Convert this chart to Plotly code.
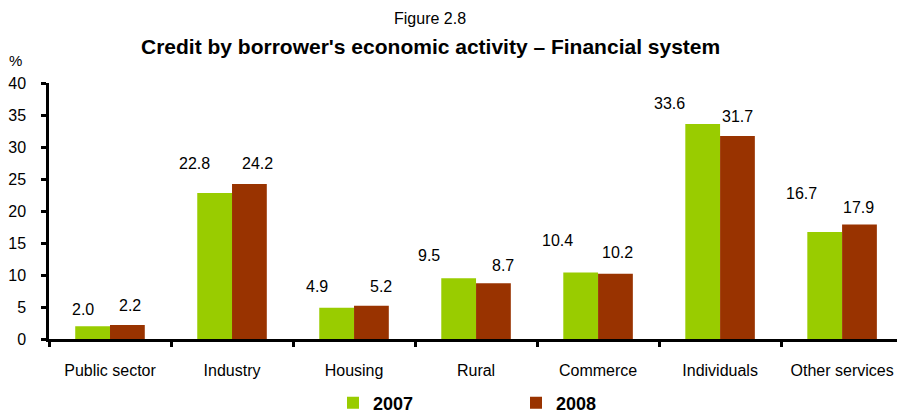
import plotly.graph_objects as go

# Credit shares by borrower's economic activity (%)
categories = ["Public sector", "Industry", "Housing", "Rural",
              "Commerce", "Individuals", "Other services"]
share_2007 = [2.0, 22.8, 4.9, 9.5, 10.4, 33.6, 16.7]
share_2008 = [2.2, 24.2, 5.2, 8.7, 10.2, 31.7, 17.9]
y_ticks = [0, 5, 10, 15, 20, 25, 30, 35, 40]

# Hand-placed data-label offsets (px) relative to category centre / bar top
dx_2007 = [-27, -38, -37, -47, -41, -51, -41]
dy_2007 = [17, 30, 21, 23, 32, 20, 39]
dx_2008 = [20, 25, 27, 27, 19, 17, 16]
dy_2008 = [19, 21, 19, 18, 21, 20, 17]

GREEN = "#99CC00"
BROWN = "#993300"
FONT = "Liberation Sans, Arial, sans-serif"

fig = go.Figure()
fig.add_trace(go.Bar(x=categories, y=share_2007, name="2007",
                     marker=dict(color=GREEN, line=dict(width=0))))
fig.add_trace(go.Bar(x=categories, y=share_2008, name="2008",
                     marker=dict(color=BROWN, line=dict(width=0))))

label_font = dict(size=16, color="black", family=FONT)
annotations = []
for values, dxs, dys in ((share_2007, dx_2007, dy_2007),
                         (share_2008, dx_2008, dy_2008)):
    for cat, v, dx, dy in zip(categories, values, dxs, dys):
        annotations.append(dict(x=cat, y=v, xref="x", yref="y",
                                text=f"{v:.1f}", showarrow=False,
                                xshift=dx, yshift=dy,
                                xanchor="center", yanchor="middle",
                                font=label_font))

# Titles and unit label, positioned from the top-left corner of the plot
annotations.append(dict(x=0, y=1, xref="paper", yref="paper", text="Figure 2.8",
                        showarrow=False, xanchor="center", yanchor="middle",
                        xshift=381, yshift=65,
                        font=dict(size=16, color="black", family=FONT)))
annotations.append(dict(x=0, y=1, xref="paper", yref="paper",
                        text="<b>Credit by borrower's economic activity – Financial system</b>",
                        showarrow=False, xanchor="center", yanchor="middle",
                        xshift=381, yshift=37,
                        font=dict(size=21, color="black", family=FONT)))
annotations.append(dict(x=0, y=1, xref="paper", yref="paper", text="%",
                        showarrow=False, xanchor="center", yanchor="middle",
                        xshift=-34, yshift=23,
                        font=dict(size=15, color="black", family=FONT)))

fig.update_layout(
    width=897, height=415,
    margin=dict(l=49, r=0, t=83, b=76),
    paper_bgcolor="white", plot_bgcolor="white",
    barmode="group", bargap=0.43, bargroupgap=0,
    font=dict(family=FONT, size=16, color="black"),
    showlegend=True,
    legend=dict(orientation="h", x=(333 - 49) / 848, xanchor="left",
                yref="container", y=12 / 415, yanchor="middle",
                entrywidth=138, entrywidthmode="pixels",
                font=dict(size=18, family=FONT, color="black", weight="bold"),
                bgcolor="rgba(0,0,0,0)"),
    annotations=annotations,
    xaxis=dict(range=[-0.5, 6.45], showline=True, linecolor="black",
               linewidth=2.5, ticks="outside", tickson="boundaries",
               ticklen=5, tickwidth=2.5, tickcolor="black",
               ticklabelstandoff=15, showgrid=False, zeroline=False,
               automargin=False,
               tickfont=dict(size=16, color="black", family=FONT)),
    yaxis=dict(range=[0, 40], tickvals=y_ticks, showline=True,
               linecolor="black", linewidth=2.5, ticks="outside",
               ticklen=5, tickwidth=2.5, tickcolor="black",
               ticklabelstandoff=12, showgrid=False, zeroline=False,
               automargin=False,
               tickfont=dict(size=16, color="black", family=FONT)),
)

fig.write_html("out.html")
